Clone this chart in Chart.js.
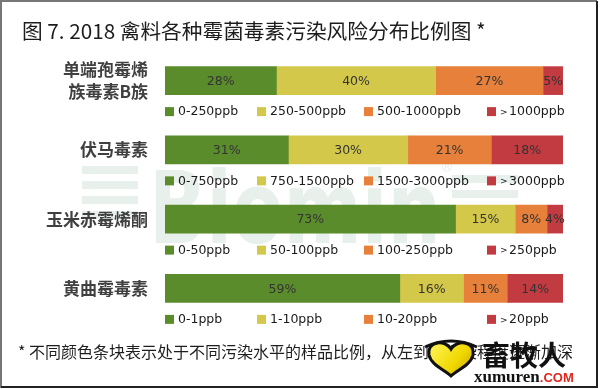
<!DOCTYPE html>
<html>
<head>
<meta charset="utf-8">
<script src="https://cdn.jsdelivr.net/npm/chart.js@4.4.1/dist/chart.umd.min.js"></script>
<style>
  html, body { margin: 0; padding: 0; background: #ffffff; }
  #wrap { position: relative; width: 600px; height: 389px; overflow: hidden; }
  canvas { display: block; }
</style>
</head>
<body>
<div id="wrap"><canvas id="c" width="600" height="389"></canvas></div>
<script>
// ---------- data ----------
const titleText = '图 7. 2018 禽料各种霉菌毒素污染风险分布比例图 *';
const footnoteText = '* 不同颜色条块表示处于不同污染水平的样品比例，从左到右污染程度逐渐加深';
const categories = [['单端孢霉烯', '族毒素B族'], '伏马毒素', '玉米赤霉烯酮', '黄曲霉毒素'];
const level1 = [28, 31, 73, 59];
const level2 = [40, 30, 15, 16];
const level3 = [27, 21, 8, 11];
const level4 = [5, 18, 4, 14];
const legendLabels1 = ['0-250ppb', '250-500ppb', '500-1000ppb', '>1000ppb'];
const legendLabels2 = ['0-750ppb', '750-1500ppb', '1500-3000ppb', '>3000ppb'];
const legendLabels3 = ['0-50ppb', '50-100ppb', '100-250ppb', '>250ppb'];
const legendLabels4 = ['0-1ppb', '1-10ppb', '10-20ppb', '>20ppb'];
const legendRows = [legendLabels1, legendLabels2, legendLabels3, legendLabels4];

// ---------- style ----------
const colors = ['#5b8c2c', '#d4c84a', '#e6803a', '#c23b41'];
const legendColumns = [0, 92, 199, 322];   // offsets from plot left
const CJK = '"Noto Sans CJK SC", "Noto Sans", sans-serif';
const LAT = '"DejaVu Sans", Verdana, sans-serif';

const decor = {
  id: 'decor',
  beforeDraw(chart) {
    const ctx = chart.ctx;
    ctx.save();
    ctx.fillStyle = '#ffffff';
    ctx.fillRect(0, 0, chart.width, chart.height);
    // faint watermark
    ctx.fillStyle = '#e7f0eb';
    [166, 181, 196, 211].forEach(y => { ctx.fillRect(82, y, 56, 8); });
    [175, 190, 205].forEach(y => { ctx.fillRect(452, y, 66, 8); });
    ctx.font = 'bold 100px ' + LAT;
    ctx.textBaseline = 'alphabetic';
    const w = ctx.measureText('Biomin').width;
    ctx.translate(149, 243);
    ctx.scale(292 / w, 1);
    ctx.fillText('Biomin', 0, 0);
    ctx.restore();
    ctx.save();
    ctx.fillStyle = '#e7f0eb';
    ctx.font = '14px ' + LAT;
    ctx.fillText('®', 440, 172);
    // title
    ctx.fillStyle = '#1c1c1c';
    ctx.font = '20.7px ' + CJK;
    ctx.textBaseline = 'middle';
    ctx.textAlign = 'left';
    ctx.fillText(titleText, 22, 31);
    ctx.restore();
  },
  afterDatasetsDraw(chart) {
    const ctx = chart.ctx;
    const ys = chart.scales.y;
    const left = chart.chartArea.left;
    ctx.save();
    // value labels
    ctx.font = '12.5px ' + LAT;
    ctx.fillStyle = '#333333';
    ctx.textAlign = 'center';
    ctx.textBaseline = 'middle';
    chart.data.datasets.forEach((ds, d) => {
      const meta = chart.getDatasetMeta(d);
      meta.data.forEach((el, i) => {
        const x = (el.base + el.x) / 2;
        ctx.fillText(ds.data[i] + '%', x, el.y + 1);
      });
    });
    // per-bar legends
    ctx.textAlign = 'left';
    legendRows.forEach((row, i) => {
      const yc = ys.getPixelForValue(i) + 31;
      row.forEach((lab, k) => {
        const x = left + legendColumns[k];
        ctx.fillStyle = colors[k];
        ctx.fillRect(x, yc - 4.5, 9, 9);
        ctx.fillStyle = '#1a1a1a';
        let tx = x + 13;
        let rest = lab;
        if (lab.charAt(0) === '>') {
          ctx.font = '9px ' + LAT;
          ctx.fillText('>', tx, yc + 1);
          tx += ctx.measureText('>').width + 1.5;
          rest = lab.slice(1);
        }
        ctx.font = '12.5px ' + LAT;
        ctx.fillText(rest, tx, yc + 0.5);
      });
    });
    ctx.restore();
  },
  afterDraw(chart) {
    const ctx = chart.ctx;
    ctx.save();
    // footnote
    ctx.fillStyle = '#1e1e1e';
    ctx.font = '16px ' + CJK;
    ctx.textBaseline = 'middle';
    ctx.fillText(footnoteText, 18, 352);
    // logo heart
    ctx.beginPath();
    const cx = 451, top = 343, bot = 376;
    ctx.moveTo(cx, top + 6);
    ctx.bezierCurveTo(cx - 6, top - 4, cx - 24, top - 2, cx - 22, top + 12);
    ctx.bezierCurveTo(cx - 20, top + 22, cx - 6, bot - 6, cx, bot);
    ctx.bezierCurveTo(cx + 6, bot - 6, cx + 20, top + 22, cx + 22, top + 12);
    ctx.bezierCurveTo(cx + 24, top - 2, cx + 6, top - 4, cx, top + 6);
    ctx.closePath();
    const g = ctx.createLinearGradient(cx - 20, top, cx + 20, bot);
    g.addColorStop(0, '#fff45a');
    g.addColorStop(0.6, '#f0d800');
    g.addColorStop(1, '#c8a000');
    ctx.fillStyle = g;
    ctx.fill();
    ctx.lineWidth = 3;
    ctx.strokeStyle = '#111111';
    ctx.stroke();
    ctx.beginPath();
    ctx.moveTo(cx - 26, top + 4);
    ctx.quadraticCurveTo(cx, top - 8, cx + 26, top + 4);
    ctx.lineWidth = 3;
    ctx.stroke();
    // logo text
    ctx.fillStyle = '#111111';
    ctx.font = 'bold 28px ' + CJK;
    ctx.textBaseline = 'middle';
    ctx.fillText('畜牧人', 482, 355);
    ctx.font = 'bold 17px "Liberation Serif", serif';
    ctx.textBaseline = 'alphabetic';
    ctx.fillText('xumuren', 474, 382);
    const xw = ctx.measureText('xumuren').width;
    ctx.fillStyle = '#e0261e';
    ctx.font = 'bold 13px "Liberation Sans", Arial, sans-serif';
    ctx.fillText('.COM', 474 + xw, 382);
    // frame
    ctx.strokeStyle = '#777777';
    ctx.lineWidth = 2;
    ctx.beginPath();
    ctx.moveTo(1, 388); ctx.lineTo(1, 1); ctx.lineTo(597, 1);
    ctx.stroke();
    ctx.strokeStyle = '#222222';
    ctx.beginPath();
    ctx.moveTo(597, 1); ctx.lineTo(597, 387); ctx.lineTo(1, 387);
    ctx.stroke();
    ctx.restore();
  }
};

const datasets = [level1, level2, level3, level4].map((vals, k) => ({
  label: 'L' + (k + 1),
  data: vals,
  backgroundColor: colors[k],
  borderWidth: 0,
  barThickness: 28
}));

new Chart(document.getElementById('c'), {
  type: 'bar',
  data: { labels: categories, datasets: datasets },
  options: {
    indexAxis: 'y',
    responsive: false,
    animation: false,
    devicePixelRatio: 1,
    layout: { padding: { top: 46, bottom: 66, left: 0, right: 37 } },
    plugins: { legend: { display: false }, title: { display: false }, tooltip: { enabled: false } },
    scales: {
      x: { stacked: true, min: 0, max: 100, display: false },
      y: {
        stacked: true,
        grid: { display: false, drawTicks: false },
        border: { display: false },
        ticks: {
          color: '#404040',
          padding: 17,
          font: { family: CJK, size: 17, weight: 'bold', lineHeight: 1.25 }
        },
        afterFit(scale) { scale.width = 165; }
      }
    }
  },
  plugins: [decor]
});
</script>
</body>
</html>
